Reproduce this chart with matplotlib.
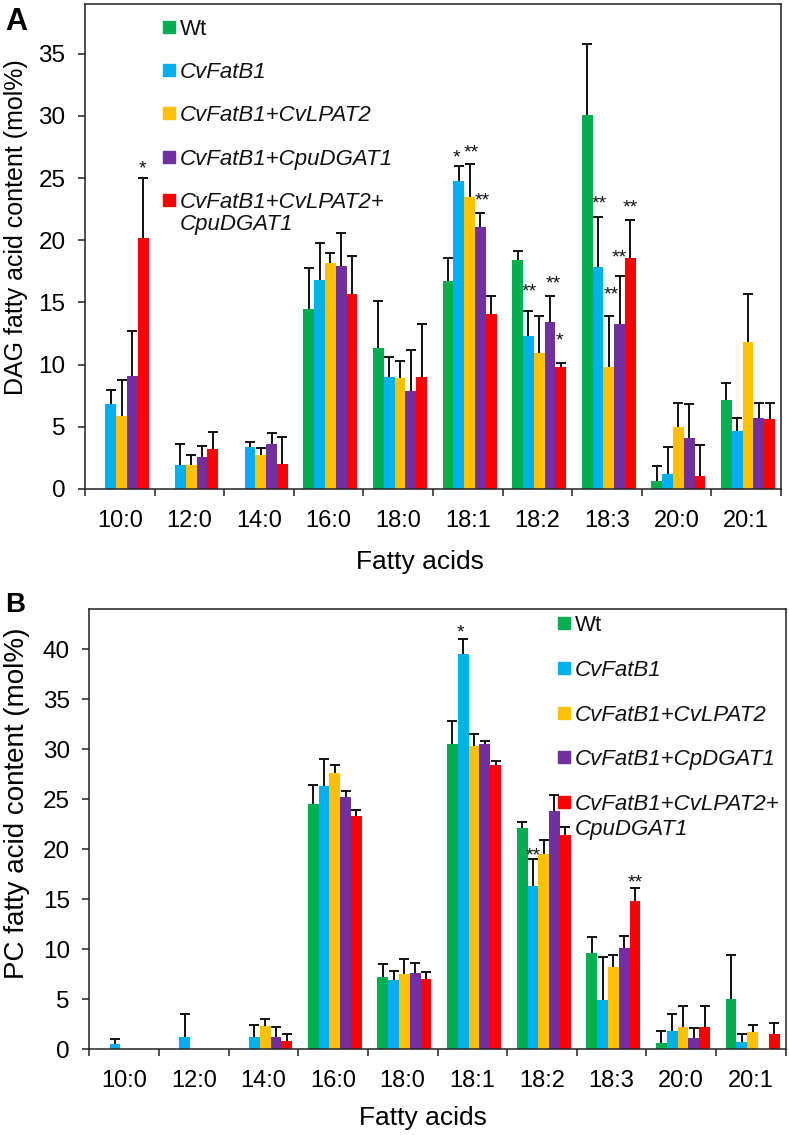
import numpy as np
import matplotlib
matplotlib.use("Agg")
import matplotlib.pyplot as plt
from matplotlib.patches import Rectangle

plt.rcParams['font.family'] = ['Liberation Sans', 'DejaVu Sans']

nan = np.nan
fatty_acids = ['10:0', '12:0', '14:0', '16:0', '18:0', '18:1', '18:2', '18:3', '20:0', '20:1']
colors = ['#00B050', '#00B0F0', '#FFC000', '#7030A0', '#FF0000']

# ---- Panel A: DAG fatty acid content (mol%) ----
dag_wt = [nan, nan, nan, 14.5, 11.3, 16.7, 18.4, 30.1, 0.62, 7.13]
dag_wt_err = [nan, nan, nan, 3.3, 3.85, 1.9, 0.75, 5.65, 1.23, 1.37]
dag_fatb1 = [6.84, 1.9, 3.4, 16.8, 9.0, 24.8, 12.3, 17.84, 1.18, 4.64]
dag_fatb1_err = [1.16, 1.7, 0.4, 3.0, 1.6, 1.2, 2.05, 4.06, 2.17, 1.1]
dag_lpat2 = [5.87, 1.9, 2.7, 18.2, 8.9, 23.5, 10.9, 9.84, 4.99, 11.8]
dag_lpat2_err = [2.93, 0.8, 0.6, 0.8, 1.4, 2.6, 3.0, 4.06, 1.96, 3.86]
dag_dgat1 = [9.09, 2.6, 3.6, 17.9, 7.9, 21.1, 13.4, 13.27, 4.1, 5.71]
dag_dgat1_err = [3.61, 0.85, 0.9, 2.7, 3.3, 1.1, 2.1, 3.83, 2.7, 1.24]
dag_triple = [20.2, 3.2, 2.0, 15.7, 9.0, 14.05, 9.8, 18.6, 1.05, 5.6]
dag_triple_err = [4.8, 1.4, 2.2, 3.0, 4.3, 1.5, 0.3, 3.0, 2.45, 1.35]

# ---- Panel B: PC fatty acid content (mol%) ----
pc_wt = [nan, nan, nan, 24.5, 7.23, 30.5, 22.1, 9.63, 0.67, 5.03]
pc_wt_err = [nan, nan, nan, 1.9, 1.34, 2.3, 0.66, 1.57, 1.16, 4.44]
pc_fatb1 = [0.5, 1.27, 1.27, 26.3, 6.9, 39.5, 16.33, 4.9, 1.83, 0.77]
pc_fatb1_err = [0.5, 2.3, 1.2, 2.7, 0.9, 1.5, 2.67, 4.3, 1.67, 0.73]
pc_lpat2 = [nan, nan, 2.33, 27.6, 7.53, 30.3, 19.53, 8.23, 2.27, 1.73]
pc_lpat2_err = [nan, nan, 0.67, 0.8, 1.54, 1.2, 1.37, 1.17, 2.06, 0.7]
pc_dgat1 = [nan, nan, 1.2, 25.2, 7.67, 30.56, 23.83, 10.1, 1.13, nan]
pc_dgat1_err = [nan, nan, 1.07, 0.6, 0.93, 0.24, 1.57, 1.26, 0.97, nan]
pc_triple = [nan, nan, 0.8, 23.3, 7.07, 28.4, 21.4, 14.83, 2.27, 1.57]
pc_triple_err = [nan, nan, 0.73, 0.6, 0.66, 0.46, 0.86, 1.27, 2.06, 1.1]

labels_A = ['Wt', 'CvFatB1', 'CvFatB1+CvLPAT2', 'CvFatB1+CpuDGAT1', 'CvFatB1+CvLPAT2+\nCpuDGAT1']
labels_B = ['Wt', 'CvFatB1', 'CvFatB1+CvLPAT2', 'CvFatB1+CpDGAT1', 'CvFatB1+CvLPAT2+\nCpuDGAT1']

# significance marks: (x in category units, y in data units, text)
sig_A = [(0.329, 26.28, '*'), (4.840, 27.19, '*'), (5.043, 27.54, '**'), (5.211, 23.71, '**'),
         (5.882, 16.41, '**'), (6.221, 17.0, '**'), (6.315, 12.47, '*'),
         (6.882, 23.44, '**'), (7.055, 16.11, '**'), (7.182, 19.09, '**'), (7.338, 23.11, '**')]
sig_B = [(4.823, 42.26, '*'), (5.871, 20.0, '**'), (7.336, 17.26, '**')]

W, H = 789, 1135
fig = plt.figure(figsize=(W / 100, H / 100), dpi=100)


def fx(px):
    return px / W


def fy(py):
    return 1 - py / H


def panel(rect, series, errs, ymax, yticks, ylabel, ylab_size, sig, ylab_pos, xlab_pos):
    ax = fig.add_axes(rect)
    x = np.arange(len(fatty_acids))
    bw = 0.155
    for i, (vals, err, c) in enumerate(zip(series, errs, colors)):
        pos = x + (i - 2) * bw + 0.025
        vals = np.array(vals, dtype=float)
        err = np.array(err, dtype=float)
        ax.bar(pos, vals, width=bw, color=c, edgecolor='none', zorder=2)
        eb = ax.errorbar(pos, vals, yerr=[np.zeros_like(err), err], fmt='none',
                         ecolor='#111111', elinewidth=1.4, capsize=3.6, capthick=1.4, zorder=3)
        eb.lines[1][0].set_visible(False)
    for sx, sy, s in sig:
        ax.annotate(s, (sx, sy), xytext=(0, -8.0), textcoords='offset points',
                    ha='center', va='baseline', fontsize=14, color='#111111')
    ax.set_xlim(-0.5, len(fatty_acids) - 0.5)
    ax.set_ylim(0, ymax)
    ax.set_yticks(yticks)
    ax.set_xticks(x)
    ax.set_xticklabels(fatty_acids)
    ax.set_xticks(np.arange(-0.5, len(fatty_acids)), minor=True)
    ax.tick_params(axis='x', which='major', length=0, pad=15.0, labelsize=17)
    ax.tick_params(axis='x', which='minor', length=5, width=1.1, direction='out', color='#222222')
    ax.tick_params(axis='y', which='major', length=5, width=1.1, direction='out', pad=9,
                   labelsize=17.5, color='#222222')
    for sp in ax.spines.values():
        sp.set_linewidth(1.1)
        sp.set_color('#222222')
    ax.set_ylabel(ylabel, fontsize=ylab_size)
    ax.yaxis.label.set_va('center')
    ax.yaxis.set_label_coords(*ylab_pos)
    ax.set_xlabel('Fatty acids', fontsize=19)
    ax.xaxis.label.set_va('center_baseline')
    ax.xaxis.set_label_coords(*xlab_pos)
    return ax


# Panel A
axA = panel([fx(85), fy(489), fx(781) - fx(85), fy(4) - fy(489)],
            [dag_wt, dag_fatb1, dag_lpat2, dag_dgat1, dag_triple],
            [dag_wt_err, dag_fatb1_err, dag_lpat2_err, dag_dgat1_err, dag_triple_err],
            39.0, np.arange(0, 36, 5), 'DAG fatty acid content (mol%)', 18, sig_A,
            ((16.5 - 85) / 696, (489 - 227.5) / 485), ((420 - 85) / 696, (489 - 559.5) / 485))

# Panel B
axB = panel([fx(89.3), fy(1049.3), fx(785.7) - fx(89.3), fy(609.3) - fy(1049.3)],
            [pc_wt, pc_fatb1, pc_lpat2, pc_dgat1, pc_triple],
            [pc_wt_err, pc_fatb1_err, pc_lpat2_err, pc_dgat1_err, pc_triple_err],
            44.0, np.arange(0, 41, 5), 'PC fatty acid content (mol%)', 20, sig_B,
            ((16.7 - 89.3) / 696.4, (1049.3 - 803.4) / 440), ((422.5 - 89.3) / 696.4, (1049.3 - 1115) / 440))


def legend(labels, sq_x, txt_x, rows, second_line_gap):
    for lab, c, ry in zip(labels, colors, rows):
        fig.patches.append(Rectangle((fx(sq_x), fy(ry + 6)), 12 / W, 12 / H,
                                     transform=fig.transFigure, color=c, zorder=5))
        lines = lab.split('\n')
        style = 'normal' if lab == 'Wt' else 'italic'
        for k, ln in enumerate(lines):
            fig.text(fx(txt_x), fy(ry + k * second_line_gap), ln, fontsize=16, fontstyle=style,
                     ha='left', va='center_baseline', color='#111111')


legend(labels_A, 163, 180, [26.7, 70, 113.3, 156.7, 200], 21.7)
legend(labels_B, 558, 575, [623.3, 668.3, 713.3, 756.7, 801.7], 25)

fig.text(fx(5), fy(19), 'A', fontsize=22, fontweight='bold', ha='left', va='center_baseline')
fig.text(fx(5), fy(602), 'B', fontsize=20, fontweight='bold', ha='left', va='center_baseline')

fig.savefig('out.png', dpi=100)
